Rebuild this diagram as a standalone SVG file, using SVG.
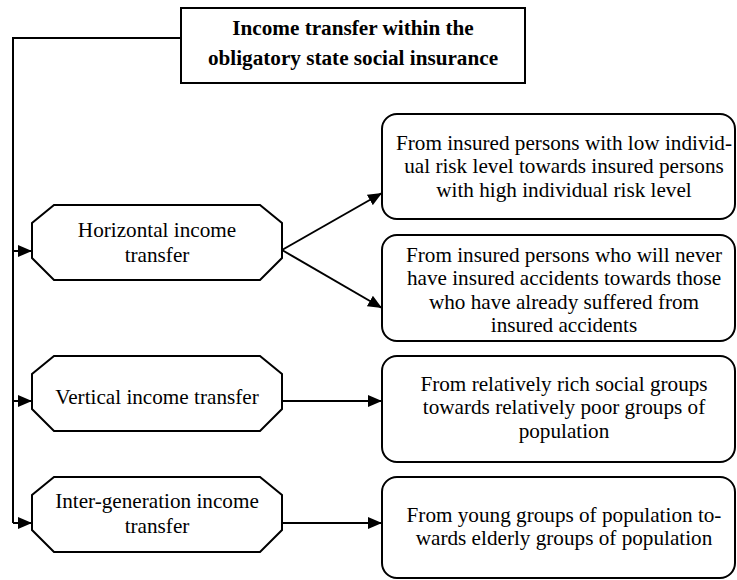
<svg xmlns="http://www.w3.org/2000/svg" width="737" height="580" viewBox="0 0 737 580">
<defs>
<style>
.box{fill:#fff;stroke:#000;stroke-width:2}
.t{font-size:21.2px;fill:#000;text-anchor:middle}
.tb{font-size:21.2px;font-weight:bold;fill:#000;text-anchor:middle}
.c{fill:none;stroke:#000;stroke-width:2}
</style>
<marker id="ah" markerWidth="14" markerHeight="12" refX="14" refY="6" orient="auto" markerUnits="userSpaceOnUse">
<path d="M0,0 L14,6 L0,12 Z" fill="#000"/>
</marker>
</defs>
<rect width="737" height="580" fill="#fff"/>
<g id="connectors">
<path class="c" d="M181,38 H13 V523"/>
<line class="c" x1="13" y1="251" x2="32" y2="251" marker-end="url(#ah)"/>
<line class="c" x1="13" y1="401" x2="32" y2="401" marker-end="url(#ah)"/>
<line class="c" x1="13" y1="523" x2="32" y2="523" marker-end="url(#ah)"/>
<line class="c" x1="282" y1="250" x2="382" y2="193" marker-end="url(#ah)"/>
<line class="c" x1="282" y1="250" x2="382" y2="308" marker-end="url(#ah)"/>
<line class="c" x1="282" y1="401" x2="382" y2="401" marker-end="url(#ah)"/>
<line class="c" x1="282" y1="523" x2="382" y2="523" marker-end="url(#ah)"/>
</g>
<g font-family="Liberation Serif, Times New Roman, serif">
<g id="root">
<rect class="box" x="181" y="8" width="344" height="75"/>
<text class="tb" x="353" y="35">Income transfer within the</text>
<text class="tb" x="353" y="65">obligatory state social insurance</text>
</g>
<g id="horizontal">
<polygon class="box" points="54,205 260,205 282,223 282,258 260,280 54,280 32,258 32,223"/>
<text class="t" x="157" y="237">Horizontal income</text>
<text class="t" x="157" y="262">transfer</text>
</g>
<g id="vertical">
<polygon class="box" points="54,356 260,356 282,374 282,409 260,431 54,431 32,409 32,374"/>
<text class="t" x="157" y="404">Vertical income transfer</text>
</g>
<g id="intergeneration">
<polygon class="box" points="54,477 260,477 282,495 282,530 260,552 54,552 32,530 32,495"/>
<text class="t" x="157" y="508">Inter-generation income</text>
<text class="t" x="157" y="533">transfer</text>
</g>
<g id="risk">
<rect class="box" x="382" y="114" width="353" height="105" rx="15"/>
<text class="t" x="564" y="150">From insured persons with low individ-</text>
<text class="t" x="564" y="173">ual risk level towards insured persons</text>
<text class="t" x="564" y="197">with high individual risk level</text>
</g>
<g id="accidents">
<rect class="box" x="382" y="235" width="353" height="106" rx="15"/>
<text class="t" x="564" y="262">From insured persons who will never</text>
<text class="t" x="564" y="285">have insured accidents towards those</text>
<text class="t" x="564" y="309">who have already suffered from</text>
<text class="t" x="564" y="332">insured accidents</text>
</g>
<g id="rich">
<rect class="box" x="382" y="356" width="353" height="106" rx="15"/>
<text class="t" x="564" y="391">From relatively rich social groups</text>
<text class="t" x="564" y="414">towards relatively poor groups of</text>
<text class="t" x="564" y="438">population</text>
</g>
<g id="young">
<rect class="box" x="382" y="477" width="353" height="101" rx="15"/>
<text class="t" x="564" y="522">From young groups of population to-</text>
<text class="t" x="564" y="545">wards elderly groups of population</text>
</g>
</g>
</svg>
